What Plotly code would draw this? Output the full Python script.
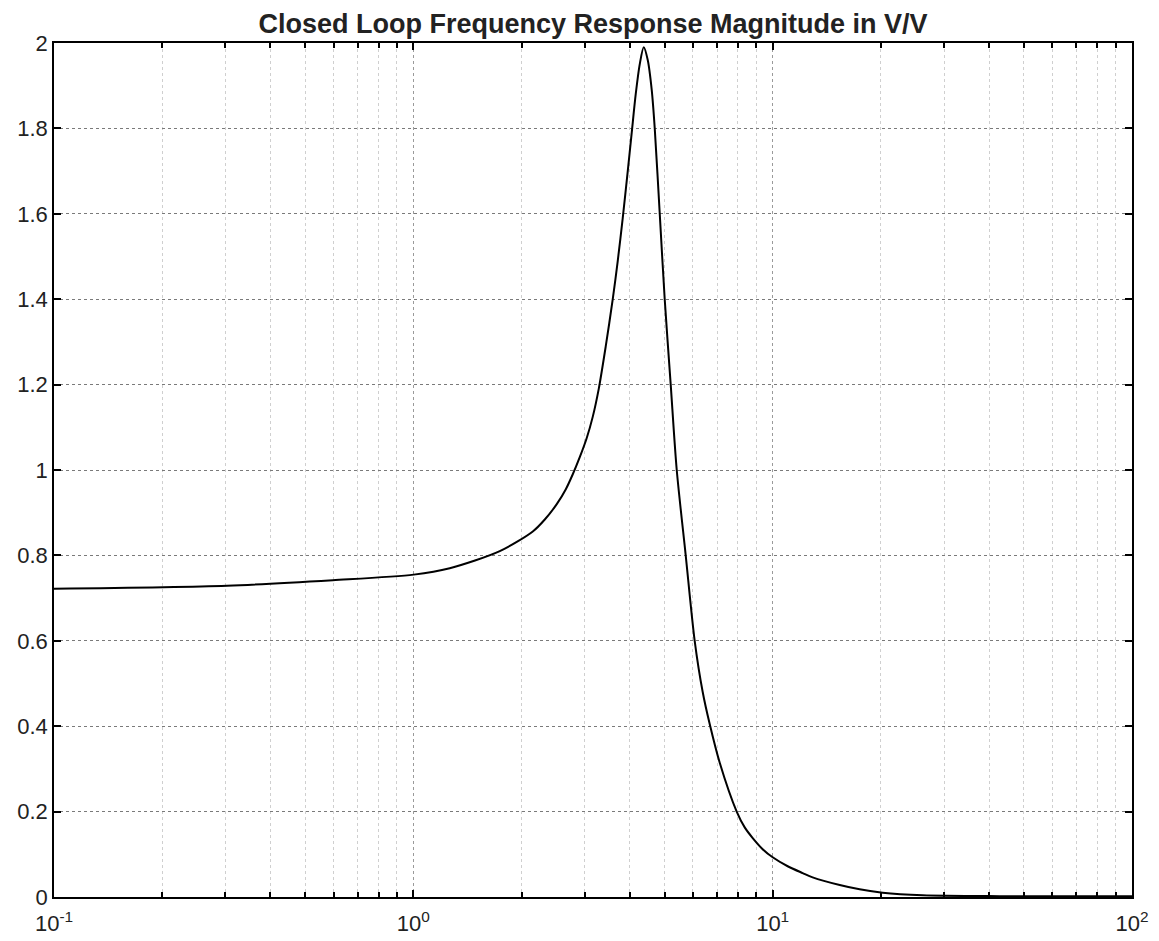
import plotly.graph_objects as go

# Frequency (log scale) and closed-loop magnitude (V/V)
freq = [0.1, 0.303, 0.597, 1.003, 1.263, 1.740, 2.150, 2.322, 2.507, 2.657, 2.778, 2.905, 3.038,
        3.158, 3.281, 3.432, 3.589, 3.706, 3.826, 3.951, 4.053, 4.158, 4.266, 4.377, 4.491,
        4.607, 4.697, 4.850, 5.007, 5.203, 5.408, 5.728, 6.067, 6.387, 6.680, 7.120, 7.941,
        8.36, 8.80, 9.38, 10.0, 11.01, 12.12, 12.92, 15.37, 17.46, 20.23, 26.14, 42.8, 100]
mag = [0.722, 0.729, 0.742, 0.755, 0.770, 0.810, 0.856, 0.884, 0.920, 0.955, 0.990, 1.030, 1.075,
       1.125, 1.19, 1.29, 1.40, 1.49, 1.59, 1.70, 1.79, 1.88, 1.95, 1.99, 1.96,
       1.89, 1.80, 1.60, 1.40, 1.20, 1.00, 0.80, 0.60, 0.48, 0.405, 0.315, 0.20,
       0.163, 0.138, 0.112, 0.093, 0.072, 0.056, 0.046, 0.028, 0.018, 0.010, 0.004, 0.002, 0.002]

x_tickvals = [0.1, 1, 10, 100]
x_ticktext = ["10<sup>-1</sup>", "10<sup>0</sup>", "10<sup>1</sup>", "10<sup>2</sup>"]
x_minor = [m * 10 ** e for e in (-1, 0, 1) for m in range(2, 10)]
y_tickvals = [0, 0.2, 0.4, 0.6, 0.8, 1.0, 1.2, 1.4, 1.6, 1.8, 2.0]
y_ticktext = ["0", "0.2", "0.4", "0.6", "0.8", "1", "1.2", "1.4", "1.6", "1.8", "2"]

fig = go.Figure()
fig.add_trace(go.Scatter(x=freq, y=mag, mode="lines",
                         line=dict(color="black", width=2, shape="spline", smoothing=0.8),
                         showlegend=False, hoverinfo="x+y"))

# page body adds an 8px offset; figure is sized so the axes land where the reference has them
fig.update_layout(
    width=1151, height=933,
    margin=dict(l=46, r=27, t=35, b=44, autoexpand=False),
    paper_bgcolor="white", plot_bgcolor="white",
    font=dict(family="Liberation Sans, Arial, sans-serif", color="black", size=22),
    title=dict(text="<b>Closed Loop Frequency Response Magnitude in V/V</b>",
               x=0.5, xref="paper", xanchor="center", y=0.983, yanchor="middle",
               font=dict(size=27, color="#222")),
)

fig.update_xaxes(
    type="log", range=[-1, 2], automargin=False,
    tickmode="array", tickvals=x_tickvals, ticktext=x_ticktext,
    ticks="inside", ticklen=7, tickwidth=1.5, tickcolor="black",
    showline=True, linecolor="black", linewidth=1.5, mirror="allticks",
    showgrid=True, gridcolor="#9a9a9a", griddash="dot", gridwidth=1,
    minor=dict(tickvals=x_minor, ticks="inside", ticklen=5, tickcolor="black",
               showgrid=True, gridcolor="#cfcfcf", griddash="dot", gridwidth=1),
    tickfont=dict(size=22, color="#222"), ticklabelstandoff=6, zeroline=False,
)
fig.update_yaxes(
    range=[0, 2], automargin=False,
    tickmode="array", tickvals=y_tickvals, ticktext=y_ticktext,
    ticks="inside", ticklen=7, tickwidth=1.5, tickcolor="black",
    showline=True, linecolor="black", linewidth=1.5, mirror="allticks",
    showgrid=True, gridcolor="#7a7a7a", griddash="dot", gridwidth=1,
    tickfont=dict(size=22, color="#222"), zeroline=False,
)

fig.write_html("out.html")
